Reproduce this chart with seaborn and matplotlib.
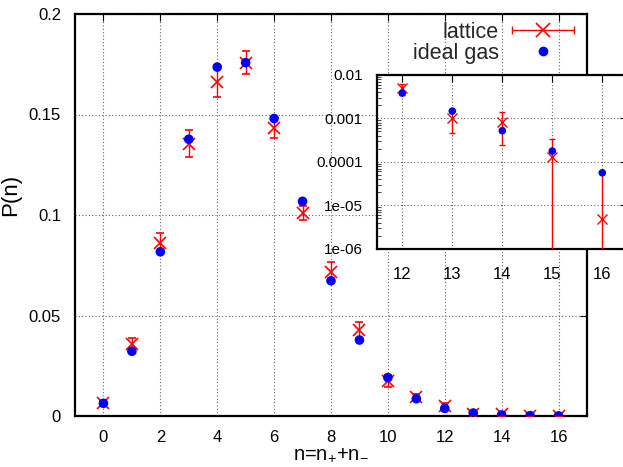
import numpy as np
import pandas as pd
import matplotlib
matplotlib.use("Agg")
import matplotlib.pyplot as plt
import seaborn as sns
from matplotlib.lines import Line2D
from matplotlib.legend_handler import HandlerBase
from matplotlib.ticker import FixedLocator, FixedFormatter, LogLocator, NullFormatter

# ---------------- data ----------------
n_values = list(range(17))
ideal_gas = [0.0063, 0.0322, 0.0817, 0.1377, 0.1736, 0.1758, 0.1480, 0.1068, 0.0673,
             0.0378, 0.0191, 0.0086, 0.0038, 0.00147, 0.00052, 0.000177, 0.000056]
lattice = [0.0065, 0.0358, 0.0862, 0.1355, 0.1662, 0.1758, 0.1431, 0.1010, 0.0717,
           0.0428, 0.0176, 0.0096, 0.0049, 0.0010, 0.00081, 0.000131, 0.0000048]
lattice_err = [0.0010, 0.0031, 0.0047, 0.0068, 0.0076, 0.0058, 0.0047, 0.0037, 0.0048,
               0.0042, 0.0030, 0.0012, 0.0014, 0.00055, 0.00057, 0.000198, 0.000054]

main_xticks = [0, 2, 4, 6, 8, 10, 12, 14, 16]
main_yticks = [0, 0.05, 0.1, 0.15, 0.2]
main_ytick_labels = ["0", "0.05", "0.1", "0.15", "0.2"]
inset_n_min = 12
inset_xticks = [12, 13, 14, 15, 16]
inset_yticks = [1e-6, 1e-5, 1e-4, 1e-3, 1e-2]
inset_ytick_labels = ["1e-06", "1e-05", "0.0001", "0.001", "0.01"]

df = pd.DataFrame({"n": n_values, "ideal": ideal_gas, "lattice": lattice, "err": lattice_err})
df_in = df[df["n"] >= inset_n_min]

# ---------------- style ----------------
sns.set_theme(style="white")
plt.rcParams["font.family"] = ["Liberation Sans", "DejaVu Sans"]
plt.rcParams["mathtext.default"] = "regular"
plt.rcParams["axes.edgecolor"] = "black"
plt.rcParams["axes.linewidth"] = 1.5

W, H = 623, 467
fig = plt.figure(figsize=(W / 100, H / 100), dpi=100)
fig.patch.set_facecolor("white")

def px_rect(l, t, r, b):
    return [l / W, (H - b) / H, (r - l) / W, (b - t) / H]

RED = "#ff0000"
BLUE = "#0000ff"
grid_kw = dict(color="#666666", linestyle=(0, (1, 2)), linewidth=0.8)

# ---------------- main axes ----------------
ax = fig.add_axes(px_rect(75, 14, 587, 416))
ax.set_xlim(-1, 17)
ax.set_ylim(0, 0.2)

ax.errorbar(df["n"], df["lattice"], yerr=df["err"], fmt="x", color=RED, ms=9,
            mew=1.2, elinewidth=1.0, capsize=3.2, capthick=1.0, zorder=3)
sns.scatterplot(data=df, x="n", y="ideal", ax=ax, color=BLUE, s=48, edgecolor="none",
                zorder=4, legend=False)

ax.xaxis.set_major_locator(FixedLocator(main_xticks))
ax.yaxis.set_major_locator(FixedLocator(main_yticks))
ax.yaxis.set_major_formatter(FixedFormatter(main_ytick_labels))
ax.tick_params(axis="both", which="major", direction="in", length=5, width=0.8,
               labelsize=12, colors="black", top=True, right=True)
ax.tick_params(axis="x", pad=10)
ax.tick_params(axis="y", pad=10)
ax.grid(True, which="major", **grid_kw)
ax.set_axisbelow(True)
ax.set_xlabel("n=n$_{+}$+n$_{-}$", fontsize=14.5, color="black")
ax.set_ylabel("P(n)", fontsize=16, color="black")
ax.xaxis.set_label_coords(0.5, -0.073)
ax.yaxis.set_label_coords(-0.105, 0.55)
for s in ax.spines.values():
    s.set_linewidth(1.6)
    s.set_color("black")

# legend with horizontal error-bar sample
class HErrHandler(HandlerBase):
    def create_artists(self, legend, orig_handle, xdescent, ydescent, width, height, fontsize, trans):
        y = height / 2 - ydescent
        x0, x1 = -xdescent, width - xdescent
        line = Line2D([x0, x1], [y, y], color=RED, lw=1.0)
        caps = Line2D([x0, x1], [y, y], ls="none", marker="|", ms=6, mew=1.0, color=RED)
        mk = Line2D([(x0 + x1) / 2], [y], ls="none", marker="x", ms=10, mew=1.2, color=RED)
        for a in (line, caps, mk):
            a.set_transform(trans)
        return [line, caps, mk]

class Dummy:
    pass

h_lat = Dummy()
h_gas = Line2D([], [], ls="none", marker="o", ms=7, color=BLUE, mec="none")
leg = ax.legend([h_lat, h_gas], ["lattice", "ideal gas"], handler_map={Dummy: HErrHandler()},
                loc="upper right", bbox_to_anchor=((574 - 75) / 512, (416 - 22) / 402),
                frameon=False, markerfirst=False, fontsize=15.5, handlelength=2.9,
                handletextpad=0.6, labelspacing=0.0, borderpad=0, borderaxespad=0)

# ---------------- inset ----------------
axi = fig.add_axes(px_rect(377.3, 74.5, 627.3, 248.8))
axi.set_facecolor("white")
axi.set_yscale("log")
axi.set_xlim(11.5, 16.5)
axi.set_ylim(1e-6, 1.02e-2)

axi.errorbar(df_in["n"], df_in["lattice"], yerr=df_in["err"], fmt="x", color=RED, ms=7,
             mew=1.0, elinewidth=1.0, capsize=2.4, capthick=1.0, zorder=3)
sns.scatterplot(data=df_in, x="n", y="ideal", ax=axi, color=BLUE, s=30, edgecolor="none",
                zorder=4, legend=False)

axi.xaxis.set_major_locator(FixedLocator(inset_xticks))
axi.yaxis.set_major_locator(FixedLocator(inset_yticks))
axi.yaxis.set_major_formatter(FixedFormatter(inset_ytick_labels))
axi.yaxis.set_minor_locator(LogLocator(base=10, subs=np.arange(2, 10)))
axi.yaxis.set_minor_formatter(NullFormatter())
axi.tick_params(axis="both", which="major", direction="in", length=5, width=0.8,
                labelsize=12, colors="black", top=True, right=True)
axi.tick_params(axis="y", which="minor", direction="in", length=3, width=0.6, left=True, right=True)
axi.tick_params(axis="x", pad=13)
axi.tick_params(axis="y", pad=10.5, labelsize=11)
axi.grid(True, which="major", **grid_kw)
axi.set_axisbelow(True)
axi.set_xlabel("")
axi.set_ylabel("")
for s in axi.spines.values():
    s.set_linewidth(1.6)
    s.set_color("black")

fig.savefig("out.png", dpi=100, facecolor="white")
